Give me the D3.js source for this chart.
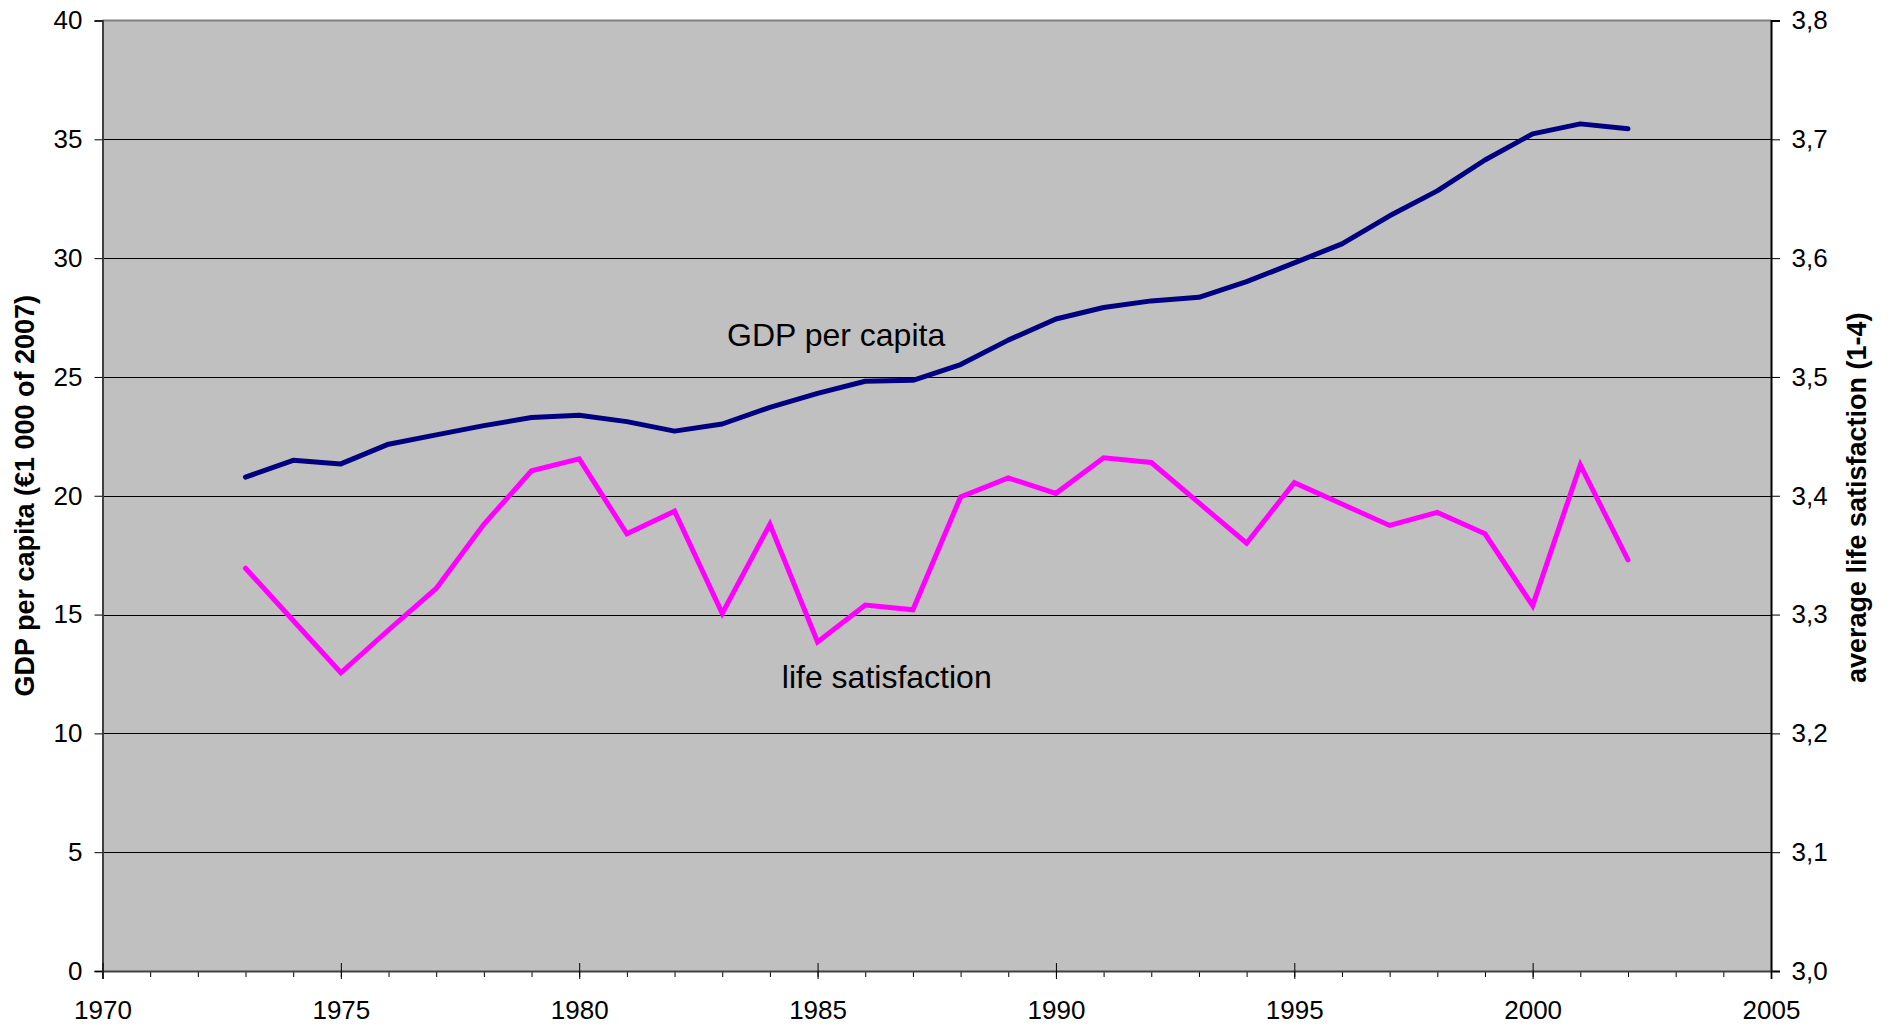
<!DOCTYPE html>
<html>
<head>
<meta charset="utf-8">
<script src="https://cdn.jsdelivr.net/npm/d3@7"></script>
<style>
  html, body { margin: 0; padding: 0; background: #fff; }
  svg { display: block; font-family: "Liberation Sans", Arial, sans-serif; }
</style>
</head>
<body>
<div id="chart"></div>
<script>
(() => {

// years on the x axis
const years = d3.range(1973, 2003);

// GDP per capita, 1 000 euro of 2007 (left axis)
const gdpValues = [
  20.78, 21.49, 21.34, 22.17, 22.56, 22.95, 23.29, 23.39, 23.12, 22.72,
  23.02, 23.72, 24.31, 24.82, 24.86, 25.52, 26.55, 27.44, 27.92, 28.20,
  28.35, 29.01, 29.80, 30.60, 31.78, 32.83, 34.13, 35.23, 35.65, 35.44
];

// average life satisfaction, 1-4 (right axis)
const lifeValues = [
  3.339, 3.295, 3.251, 3.287, 3.322, 3.376, 3.421, 3.431, 3.368, 3.387,
  3.301, 3.376, 3.277, 3.308, 3.304, 3.399, 3.415, 3.402, 3.432, 3.428,
  3.394, 3.360, 3.411, 3.393, 3.375, 3.386, 3.368, 3.3075, 3.426, 3.346
];

// tick values
const xMajorTicks = d3.range(1970, 2006, 5);
const xMinorTicks = d3.range(1970, 2006, 1);
const leftTicks = d3.range(0, 41, 5);
const rightTicks = [3.0, 3.1, 3.2, 3.3, 3.4, 3.5, 3.6, 3.7, 3.8];

// labels
const leftTitle = "GDP per capita (€1 000 of 2007)";
const rightTitle = "average life satisfaction (1-4)";
const gdpLabel = "GDP per capita";
const lifeLabel = "life satisfaction";

const width = 1892, height = 1026;
const plot = { left: 102.5, top: 20.5, right: 1771, bottom: 971 };

const svg = d3.select("#chart")
  .append("svg")
  .attr("width", width)
  .attr("height", height);

// scales
const x = d3.scaleLinear().domain([1970, 2005]).range([plot.left, plot.right]);
const yL = d3.scaleLinear().domain([0, 40]).range([plot.bottom, plot.top]);
const yR = d3.scaleLinear().domain([3.0, 3.8]).range([plot.bottom, plot.top]);

// plot background
svg.append("rect")
  .attr("x", plot.left)
  .attr("y", plot.top)
  .attr("width", plot.right - plot.left)
  .attr("height", plot.bottom - plot.top)
  .attr("fill", "#c0c0c0");

// gridlines
svg.append("g")
  .selectAll("line")
  .data(leftTicks.filter(d => d > 0 && d < 40))
  .enter()
  .append("line")
  .attr("x1", plot.left)
  .attr("x2", plot.right)
  .attr("y1", d => Math.round(yL(d)) + 0.5)
  .attr("y2", d => Math.round(yL(d)) + 0.5)
  .attr("stroke", "#000")
  .attr("stroke-width", 1);

// top border
svg.append("line")
  .attr("x1", plot.left).attr("x2", plot.right)
  .attr("y1", plot.top).attr("y2", plot.top)
  .attr("stroke", "#808080")
  .attr("stroke-width", 2);

// series lines
const gdpLine = d3.line()
  .x((d, i) => x(years[i]))
  .y(d => yL(d));

const lifeLine = d3.line()
  .x((d, i) => x(years[i]))
  .y(d => yR(d));

svg.append("path")
  .datum(gdpValues)
  .attr("d", gdpLine)
  .attr("fill", "none")
  .attr("stroke", "#000080")
  .attr("stroke-width", 5)
  .attr("stroke-linejoin", "round")
  .attr("stroke-linecap", "round");

svg.append("path")
  .datum(lifeValues)
  .attr("d", lifeLine)
  .attr("fill", "none")
  .attr("stroke", "#ff00ff")
  .attr("stroke-width", 5)
  .attr("stroke-linejoin", "miter")
  .attr("stroke-linecap", "round");

// axes
const tickFont = "26px";

const leftAxis = svg.append("g")
  .attr("transform", `translate(${plot.left},0)`)
  .call(d3.axisLeft(yL).tickValues(leftTicks).tickSize(8).tickFormat(d3.format("d")));
leftAxis.select(".domain").attr("stroke", "#404040").attr("stroke-width", 2);
leftAxis.selectAll(".tick line").attr("stroke", "#000").attr("stroke-width", 1);
leftAxis.selectAll(".tick text")
  .attr("x", -20)
  .attr("font-size", tickFont)
  .attr("font-family", "Liberation Sans, Arial, sans-serif")
  .attr("fill", "#000");

const rightAxis = svg.append("g")
  .attr("transform", `translate(${plot.right},0)`)
  .call(d3.axisRight(yR).tickValues(rightTicks).tickSize(9)
    .tickFormat(d => d.toFixed(1).replace(".", ",")));
rightAxis.select(".domain").attr("stroke", "#000").attr("stroke-width", 2);
rightAxis.selectAll(".tick line").attr("stroke", "#000").attr("stroke-width", 1);
rightAxis.selectAll(".tick text")
  .attr("x", 20.5)
  .attr("font-size", tickFont)
  .attr("font-family", "Liberation Sans, Arial, sans-serif")
  .attr("fill", "#000");

// minor x ticks
const minorAxis = svg.append("g")
  .attr("transform", `translate(0,${plot.bottom})`)
  .call(d3.axisBottom(x).tickValues(xMinorTicks).tickSize(6).tickFormat(""));
minorAxis.select(".domain").remove();
minorAxis.selectAll(".tick line").attr("stroke", "#000").attr("stroke-width", 1);

// major x ticks, crossing the axis
const bottomAxis = svg.append("g")
  .attr("transform", `translate(0,${plot.bottom})`)
  .call(d3.axisBottom(x).tickValues(xMajorTicks).tickSize(8).tickFormat(d3.format("d")));
bottomAxis.select(".domain").attr("stroke", "#404040").attr("stroke-width", 2);
bottomAxis.selectAll(".tick line")
  .attr("y1", -8)
  .attr("y2", 8)
  .attr("stroke", "#000")
  .attr("stroke-width", 1);
bottomAxis.selectAll(".tick text")
  .attr("y", 48)
  .attr("dy", null)
  .attr("font-size", tickFont)
  .attr("font-family", "Liberation Sans, Arial, sans-serif")
  .attr("fill", "#000");

// axis titles
const midY = (plot.top + plot.bottom) / 2;

svg.append("text")
  .attr("transform", `translate(33.5,${midY}) rotate(-90)`)
  .attr("text-anchor", "middle")
  .attr("font-size", "27px")
  .attr("font-weight", "bold")
  .text(leftTitle);

svg.append("text")
  .attr("transform", `translate(1866,${midY + 2}) rotate(-90)`)
  .attr("text-anchor", "middle")
  .attr("font-size", "27px")
  .attr("font-weight", "bold")
  .text(rightTitle);

// series labels inside the plot
svg.append("text")
  .attr("x", x(1983.1))
  .attr("y", yL(26.3))
  .attr("font-size", "32px")
  .text(gdpLabel);

svg.append("text")
  .attr("x", x(1984.25))
  .attr("y", yL(11.9))
  .attr("font-size", "32px")
  .text(lifeLabel);

})();
</script>
</body>
</html>
